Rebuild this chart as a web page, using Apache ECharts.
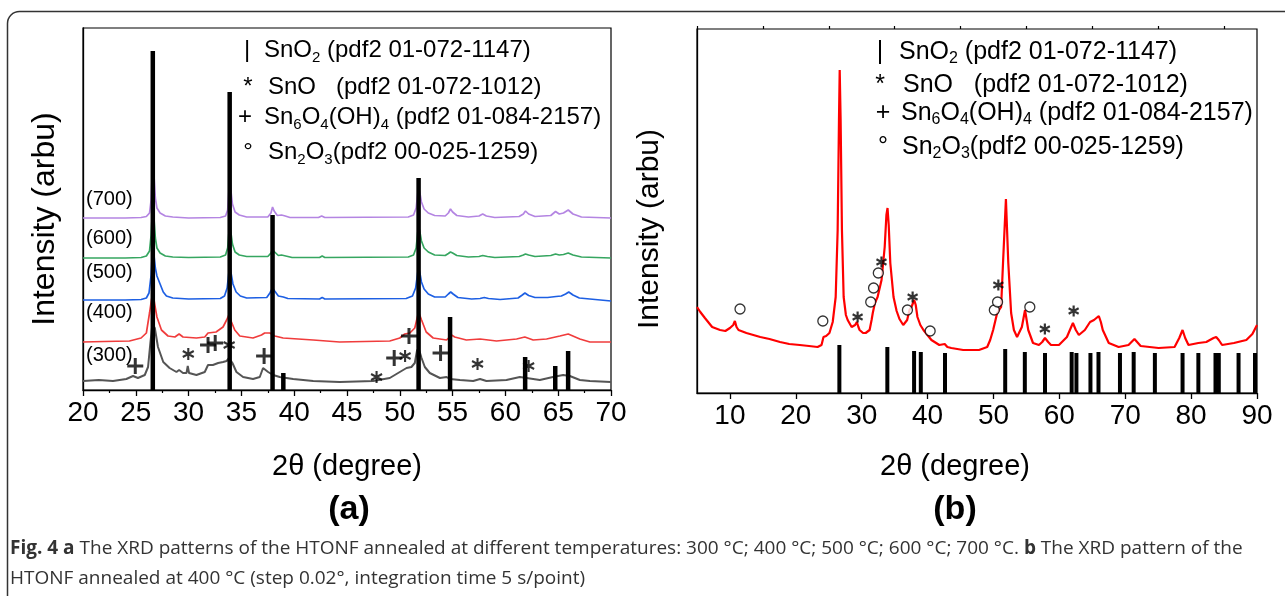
<!DOCTYPE html>
<html><head><meta charset="utf-8">
<script src="https://cdn.jsdelivr.net/npm/echarts@6/dist/echarts.min.js"></script>
<style>html,body{margin:0;padding:0;background:#fff;}#c{width:1285px;height:596px;}</style>
</head><body><div id="c"></div>
<script>
// ---------- Panel (a): XRD patterns, offset stacked (2theta deg, intensity arb.) ----------
const xrd700 = [[20,172],[24,172],[25.5,172.5],[26.0,173.5],[26.3,177],[26.45,190],[26.55,215],[26.62,228],[26.72,215],[26.85,192],[27.0,182],[27.3,177],[27.8,174],[28.5,173],[30,172],[33.0,172.5],[33.5,174],[33.7,180],[33.82,200],[33.9,213],[34.0,200],[34.15,186],[34.4,178],[34.8,175],[35.5,173],[37.5,173],[37.8,177],[37.95,183],[38.1,179],[38.4,174.5],[38.8,175],[38.97,177],[39.15,174],[39.6,172.5],[42.3,172.5],[42.6,174],[42.9,172.5],[50.8,173],[51.3,175],[51.55,182],[51.7,197],[51.78,203],[51.9,197],[52.05,188],[52.3,181],[52.7,177],[53.3,174.5],[54.3,174],[54.6,177],[54.8,181],[55.0,178],[55.4,174.5],[56.5,173],[57.5,174],[57.85,176],[58.2,174],[59,172.5],[61.3,173.5],[61.7,176],[61.9,179],[62.2,176],[62.8,173.5],[64.3,174.5],[64.75,178.5],[65.1,176],[65.5,177],[65.95,180],[66.4,176],[67.2,173],[70,172]];
const xrd600 = [[20,132],[24,132],[25.5,132.5],[26.0,134],[26.3,139],[26.45,155],[26.55,175],[26.62,185],[26.72,172],[26.85,152],[27.0,142],[27.3,137],[27.8,134],[28.5,133],[30,132.5],[33.0,133],[33.5,135],[33.7,142],[33.82,158],[33.9,168],[34.0,158],[34.15,146],[34.4,138],[34.8,135],[35.5,133.5],[37.5,133.5],[37.8,137],[37.95,140],[38.1,138],[38.5,134.5],[38.8,135],[38.97,136],[39.2,134],[39.8,132.5],[42.4,132.5],[42.65,134],[42.9,132.5],[50.8,133],[51.3,135],[51.55,142],[51.7,158],[51.78,164],[51.9,158],[52.05,149],[52.3,142],[52.7,138],[53.3,135],[54.3,134.5],[54.6,136.5],[54.8,138],[55.0,137],[55.4,134.5],[56.5,133],[57.5,133.5],[57.85,134.5],[58.3,133.5],[59,132.5],[61.3,133.5],[61.7,135],[61.9,136],[62.2,135],[62.8,133.5],[64.3,134.5],[64.75,136],[65.1,135],[65.5,135.5],[65.95,137],[66.4,135],[67.2,133],[70,132]];
const xrd500 = [[20,90],[24,90],[25.5,90.5],[26.0,92],[26.25,97],[26.45,115],[26.55,135],[26.62,145],[26.72,135],[26.85,122],[27.0,114],[27.3,106],[27.6,98],[27.9,94],[28.5,92],[30,91],[33.0,91.5],[33.4,94],[33.65,102],[33.82,118],[33.9,125],[34.0,118],[34.2,106],[34.5,98],[34.9,94],[35.5,92],[37.4,92.5],[37.7,97],[37.95,102],[38.15,99],[38.5,94],[38.97,93],[39.4,91.5],[42.4,91],[42.65,92.5],[42.9,91],[50.6,91.5],[51.2,94],[51.5,102],[51.68,116],[51.78,123],[51.9,117],[52.05,108],[52.3,101],[52.7,96],[53.3,93],[54.3,93],[54.6,96],[54.82,98],[55.05,96],[55.5,92.5],[56.8,91],[57.6,91.5],[58.0,92.5],[58.4,91.5],[59.5,90.5],[61.2,92],[61.6,95],[61.85,97],[62.2,94.5],[62.8,92.5],[64.0,92.5],[64.8,93.5],[65.3,94],[65.7,96],[66.0,98],[66.4,95],[67.0,92],[68,91],[70,89]];
const xrd400 = [[20,48],[22,48.5],[24.4,49],[25.5,52],[26.0,57],[26.3,77],[26.48,90],[26.62,97],[26.8,85],[27.0,73],[27.43,60],[28.05,54],[28.7,53],[29.1,56],[29.47,53],[30.74,52],[31.53,53],[31.84,57],[32.6,58],[33.26,63],[33.6,70],[33.85,76],[34.06,68],[34.37,60],[34.85,54],[36.1,52],[36.9,55],[37.2,57],[37.7,57],[38.16,54],[38.95,52],[41.8,50],[44.3,48],[49.05,49],[50.0,52],[50.47,56],[50.95,57],[51.42,62],[51.78,78],[52.06,70],[52.5,58],[53.16,52],[54.43,50],[54.9,55],[55.2,53],[56.3,50],[57.6,51],[59.16,49],[61.06,51],[61.84,53],[62.63,50],[63.9,51],[65.16,54],[65.95,56],[67.05,51],[68,48],[70,48]];
const xrd300 = [[20,9],[21.5,10],[22.84,9],[24.1,11],[24.74,14],[25.2,12],[25.85,15],[26.16,23],[26.38,47],[26.57,66],[26.7,68],[26.8,62],[27.1,43],[27.6,28],[28.2,22],[28.85,18],[29.1,20],[29.47,17],[29.8,17],[29.92,24],[30.04,17],[30.74,15],[31.53,18],[31.84,25],[32.3,25],[32.8,27],[33.26,28],[33.6,29],[33.83,32],[34.15,27],[34.53,18],[35.16,13],[36.1,11],[36.74,13],[37.05,22],[37.2,23],[37.53,18],[38.0,15],[38.63,13],[39.9,11],[41.8,9],[44.3,8],[47.47,9],[49.05,12],[50.0,18],[50.64,22],[51.1,23],[51.42,27],[51.64,40],[51.83,40],[52.06,32],[52.37,23],[52.84,17],[53.8,12],[54.43,13],[54.74,11],[55.7,10],[56.95,9],[57.6,11],[58.2,9],[60.1,10],[61.37,13],[62.0,12],[63.26,10],[64.5,13],[65.47,15],[66.1,14],[67.05,10],[68.0,9],[70,8]];
const sno2BarsA = [[26.61,339],[33.89,298],[37.95,175],[38.97,17],[51.78,212],[54.76,73],[61.87,33],[64.72,24],[65.94,39]];
const plusMarksA = [[24.95,24],[31.84,45],[32.52,47],[37.15,34],[49.47,32],[50.87,54],[53.86,37]];
const starMarksA = [[29.97,36],[33.84,45],[47.8,13],[50.5,34],[57.36,26],[62.2,24]];
const sampleLabels = ['(700)','(600)','(500)','(400)','(300)'];

// ---------- Panel (b): XRD of HTONF annealed at 400 C ----------
const xrd400b = [[5.0,86],[5.5,81],[6.2,75],[7.3,66],[8.5,63],[9.3,62],[10.0,65],[10.5,68],[10.75,72],[11.0,66],[11.3,63],[12.5,60],[14.6,56],[16.0,54],[17.6,51],[19.0,49],[20.6,48],[22.0,47],[23.3,46],[23.9,48],[24.2,56],[24.6,57],[25.1,60],[25.6,71],[26.05,96],[26.35,163],[26.55,273],[26.66,323],[26.8,273],[27.0,163],[27.26,96],[27.6,78],[27.87,73],[28.47,66],[29.0,68],[29.26,71],[29.5,66],[29.68,63],[30.2,60],[30.6,60],[31.2,63],[31.5,73],[31.68,80],[32.0,90],[32.41,96],[33.01,113],[33.49,146],[33.75,178],[33.92,185],[34.1,168],[34.34,130],[34.83,96],[35.3,82],[35.73,74],[36.3,68],[36.9,73],[37.25,83],[37.55,86],[37.97,93],[38.2,88],[38.46,76],[38.9,68],[39.37,63],[40.58,53],[41.78,48],[42.6,49],[43.0,46],[43.6,45],[45.4,43],[47.8,43],[49.05,46],[49.5,53],[49.95,63],[50.56,80],[51.16,86],[51.45,130],[51.89,194],[52.25,130],[52.68,80],[53.1,63],[53.58,56],[54.31,66],[54.79,83],[55.28,63],[56.0,50],[56.9,48],[57.4,51],[57.82,55],[58.3,51],[58.73,48],[59.94,48],[61.15,56],[61.6,63],[62.06,70],[62.5,63],[62.96,58],[63.87,63],[64.66,71],[65.26,73],[65.99,77],[66.3,71],[66.59,63],[67.5,50],[69.0,46],[70.5,48],[71.4,54],[72.34,47],[75.07,45],[77.49,46],[78.2,55],[78.7,63],[79.1,55],[79.6,48],[81.1,50],[82.3,51],[83.4,55],[83.8,56],[84.2,53],[84.7,48],[86.5,50],[88.38,53],[89.3,59],[90.0,68]];
const sno2BarsB = [[26.61,48],[33.89,46],[37.95,42],[38.97,41],[42.64,40],[51.78,44],[54.76,41],[57.82,40],[61.87,41],[62.59,40],[64.72,40],[65.94,41],[69.2,40],[71.28,41],[74.5,40],[78.7,40],[81.1,40],[83.7,40],[84.2,40],[87.2,40],[89.7,40]];
const circleMarksB = [[11.53,84],[24.1,72],[31.37,91],[31.8,105],[32.52,120],[36.94,83],[40.39,62],[50.13,83],[50.62,91],[55.52,86]];
const starMarksB = [[29.38,76],[33.0,131],[37.73,96],[50.74,108],[57.8,64],[62.17,82]];
const majorTicksB = [10,20,30,40,50,60,70,80,90];
const minorTicksB = [5,15,25,35,45,55,65,75,85];

const FONT = 'Liberation Sans, Arial, sans-serif';
const STAR = 'path://M0,-10L0,10M-8.66,-5L8.66,5M-8.66,5L8.66,-5';
const PLUS = 'path://M0,-10L0,10M-10,0L10,0';

function barItem(w) {
  return function (params, api) {
    const x = api.value(0), h = api.value(1);
    const b = api.coord([x, 0]), t = api.coord([x, h]);
    return { type: 'rect', shape: { x: b[0] - w / 2, y: t[1], width: w, height: b[1] - t[1] }, style: { fill: '#000' } };
  };
}
function lineS(data, color, w) {
  return { type: 'line', xAxisIndex: 0, yAxisIndex: 0, data: data, showSymbol: false, symbol: 'none',
    lineStyle: { color: color, width: w }, z: 2, silent: true };
}
function txt(x, y, text, size, opts) {
  opts = opts || {};
  return { type: 'text', x: x, y: y, rotation: opts.rot || 0, z: 10,
    style: { text: text, fontSize: size, fontFamily: opts.family || FONT, fontWeight: opts.weight || 'normal',
      fill: opts.fill || '#000', align: opts.align || 'left', verticalAlign: 'middle', rich: opts.rich } };
}
function legendRich(size) {
  return { n: { fontSize: size, fontFamily: FONT, fill: '#000', lineHeight: 30 },
           s: { fontSize: Math.round(size * 0.62), fontFamily: FONT, fill: '#000', lineHeight: 8, verticalAlign: 'bottom' } };
}

const chart = echarts.init(document.getElementById('c'), null, { renderer: 'canvas' });
const axisLineStyle = { color: '#000', width: 1.3 };
const labelStyle = { fontSize: 28, color: '#000', fontFamily: FONT, margin: 9 };
const CAP = 'Open Sans, Noto Sans, sans-serif';
const capRich = { b: { fontFamily: CAP, fontSize: 19, fontWeight: 'bold', fill: '#333' }, r: { fontFamily: CAP, fontSize: 19, fill: '#333' } };

const ra = legendRich(24), rb = legendRich(25);
const graphics = [
  { type: 'rect', shape: { x: 7.5, y: 11.5, width: 1320, height: 620, r: 12 }, style: { fill: 'none', stroke: '#333', lineWidth: 1.5 }, z: 0 },
  // legend (a)
  txt(247, 50, '|', 24, { align: 'center' }),
  txt(264, 50, '{n|SnO}{s|2}{n| (pdf2 01-072-1147)}', 24, { rich: ra }),
  txt(248, 87, '*', 24, { align: 'center' }),
  txt(268, 87, '{n|SnO   (pdf2 01-072-1012)}', 24, { rich: ra }),
  txt(245, 117, '+', 24, { align: 'center' }),
  txt(264, 117, '{n|Sn}{s|6}{n|O}{s|4}{n|(OH)}{s|4}{n| (pdf2 01-084-2157)}', 24, { rich: ra }),
  txt(248, 152, '°', 24, { align: 'center' }),
  txt(268, 152, '{n|Sn}{s|2}{n|O}{s|3}{n|(pdf2 00-025-1259)}', 24, { rich: ra }),
  // legend (b)
  txt(880, 52, '|', 25, { align: 'center' }),
  txt(899, 52, '{n|SnO}{s|2}{n| (pdf2 01-072-1147)}', 25, { rich: rb }),
  txt(880, 85, '*', 25, { align: 'center' }),
  txt(903, 85, '{n|SnO   (pdf2 01-072-1012)}', 25, { rich: rb }),
  txt(883, 113, '+', 25, { align: 'center' }),
  txt(901, 113, '{n|Sn}{s|6}{n|O}{s|4}{n|(OH)}{s|4}{n| (pdf2 01-084-2157)}', 25, { rich: rb }),
  txt(883, 147, '°', 25, { align: 'center' }),
  txt(902, 147, '{n|Sn}{s|2}{n|O}{s|3}{n|(pdf2 00-025-1259)}', 25, { rich: rb }),
  // sample labels
  txt(86, 199, sampleLabels[0], 20), txt(86, 238, sampleLabels[1], 20), txt(86, 272, sampleLabels[2], 20),
  txt(86, 312, sampleLabels[3], 20), txt(86, 355, sampleLabels[4], 20),
  // axis titles
  txt(45, 219, 'Intensity (arbu)', 32, { rot: Math.PI / 2, align: 'center' }),
  txt(650, 229, 'Intensity (arbu)', 30, { rot: Math.PI / 2, align: 'center' }),
  txt(347, 467, '2θ (degree)', 29, { align: 'center' }),
  txt(955, 467, '2θ (degree)', 29, { align: 'center' }),
  txt(349, 510, '(a)', 34, { align: 'center', weight: 'bold' }),
  txt(955, 510, '(b)', 34, { align: 'center', weight: 'bold' }),
  // caption
  txt(10, 549, '{b|Fig. 4 a} {r|The XRD patterns of the HTONF annealed at different temperatures: 300 °C; 400 °C; 500 °C; 600 °C; 700 °C.} {b|b} {r|The XRD pattern of the}', 19,
      { family: CAP, rich: capRich }),
  txt(10, 579, '{r|HTONF annealed at 400 °C (step 0.02°, integration time 5 s/point)}', 19, { family: CAP, rich: capRich })
];

chart.setOption({
  animation: false,
  backgroundColor: '#fff',
  grid: [
    { left: 83, top: 28, width: 528, height: 362, show: true, borderColor: '#000', borderWidth: 1.2, backgroundColor: 'transparent' },
    { left: 697, top: 29, width: 560, height: 364, show: true, borderColor: '#000', borderWidth: 1.2, backgroundColor: 'transparent' }
  ],
  xAxis: [
    { gridIndex: 0, type: 'value', min: 20, max: 70, interval: 5,
      axisLine: { lineStyle: axisLineStyle }, axisTick: { length: 6, lineStyle: axisLineStyle },
      minorTick: { show: true, splitNumber: 2, length: 3, lineStyle: { color: '#000', width: 1.2 } },
      axisLabel: labelStyle, splitLine: { show: false }, minorSplitLine: { show: false } },
    { gridIndex: 1, type: 'value', min: 5, max: 90,
      axisLine: { lineStyle: axisLineStyle }, axisTick: { length: 6, lineStyle: axisLineStyle, customValues: majorTicksB },
      axisLabel: Object.assign({ customValues: majorTicksB }, labelStyle), splitLine: { show: false } },
    { gridIndex: 1, type: 'value', min: 5, max: 90, axisLine: { show: false },
      axisTick: { length: 3, lineStyle: { color: '#000', width: 1.2 }, customValues: minorTicksB },
      axisLabel: { show: false }, splitLine: { show: false } }
  ],
  yAxis: [
    { gridIndex: 0, type: 'value', min: 0, max: 362, axisLine: { show: true, lineStyle: axisLineStyle }, axisTick: { show: false }, axisLabel: { show: false }, splitLine: { show: false } },
    { gridIndex: 1, type: 'value', min: 0, max: 364, axisLine: { show: true, lineStyle: axisLineStyle }, axisTick: { show: false }, axisLabel: { show: false }, splitLine: { show: false } }
  ],
  series: [
    lineS(xrd300, '#555555', 2),
    lineS(xrd400, '#f03c3c', 1.7),
    lineS(xrd500, '#1d5fe3', 1.7),
    lineS(xrd600, '#36a660', 1.7),
    lineS(xrd700, '#b485e2', 1.7),
    { type: 'custom', xAxisIndex: 0, yAxisIndex: 0, data: sno2BarsA, renderItem: barItem(4.5), z: 3, silent: true },
    { type: 'scatter', xAxisIndex: 0, yAxisIndex: 0, data: plusMarksA, symbol: PLUS, symbolSize: 16,
      itemStyle: { color: 'none', borderColor: '#000', borderWidth: 3 }, z: 4, silent: true },
    { type: 'scatter', xAxisIndex: 0, yAxisIndex: 0, data: starMarksA, symbol: STAR, symbolSize: [11, 12],
      itemStyle: { color: 'none', borderColor: '#000', borderWidth: 2.2 }, z: 4, silent: true },
    { type: 'line', xAxisIndex: 1, yAxisIndex: 1, data: xrd400b, showSymbol: false, symbol: 'none',
      lineStyle: { color: '#ff0000', width: 2.2 }, z: 2, silent: true },
    { type: 'custom', xAxisIndex: 1, yAxisIndex: 1, data: sno2BarsB, renderItem: barItem(4), z: 3, silent: true },
    { type: 'scatter', xAxisIndex: 1, yAxisIndex: 1, data: circleMarksB, symbol: 'circle', symbolSize: 10,
      itemStyle: { color: '#fff', borderColor: '#000', borderWidth: 1.3 }, z: 4, silent: true },
    { type: 'scatter', xAxisIndex: 1, yAxisIndex: 1, data: starMarksB, symbol: STAR, symbolSize: [10, 11],
      itemStyle: { color: 'none', borderColor: '#000', borderWidth: 2.3 }, z: 4, silent: true }
  ],
  graphic: graphics
});
</script></body></html>
